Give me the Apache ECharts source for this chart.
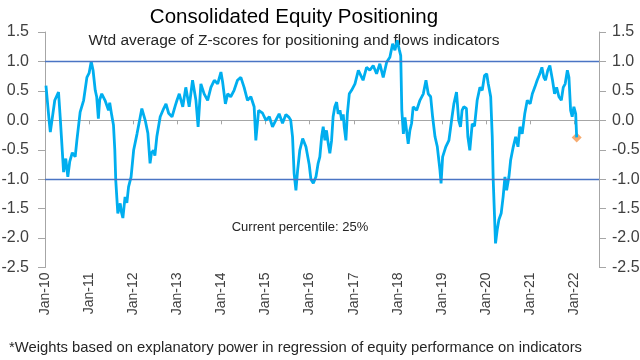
<!DOCTYPE html>
<html><head><meta charset="utf-8">
<script src="https://cdn.jsdelivr.net/npm/echarts@6/dist/echarts.min.js"></script>
<style>html,body{margin:0;padding:0;background:#fff}#c{width:640px;height:360px}</style>
</head><body><div id="c"></div>
<script>
const dates = ['2010-01-09','2010-02-04','2010-02-14','2010-03-23','2010-04-23','2010-05-07','2010-06-04','2010-06-22','2010-07-09','2010-07-25','2010-08-15','2010-09-08','2010-09-22','2010-10-19','2010-11-17','2010-12-14',
'2011-01-01','2011-01-19','2011-02-03','2011-02-21','2011-03-05','2011-03-19','2011-03-30','2011-04-16','2011-05-13','2011-06-11','2011-06-21','2011-07-08','2011-07-22','2011-08-02','2011-08-10','2011-08-27','2011-09-16','2011-09-25','2011-10-08','2011-10-26','2011-11-10','2011-11-24','2011-12-15',
'2012-01-05','2012-02-02','2012-02-29','2012-03-13','2012-04-10','2012-05-02','2012-05-20','2012-06-01','2012-06-18','2012-06-29','2012-07-15','2012-08-12','2012-09-10','2012-09-29','2012-10-21','2012-11-18','2012-12-15','2012-12-29',
'2013-01-17','2013-02-15','2013-03-12','2013-04-09','2013-05-07','2013-06-04','2013-06-22','2013-07-15','2013-08-11','2013-09-09','2013-10-06','2013-11-03','2013-12-01','2013-12-28',
'2014-01-11','2014-02-03','2014-02-22','2014-03-19','2014-04-16','2014-05-14','2014-06-11','2014-07-08','2014-08-05','2014-09-02','2014-09-29','2014-10-13','2014-11-05','2014-12-08',
'2015-01-05','2015-02-02','2015-02-28','2015-03-27','2015-04-24','2015-05-22','2015-06-19','2015-07-15','2015-07-29','2015-08-13','2015-08-26','2015-09-10','2015-09-24','2015-10-12','2015-11-05','2015-12-02','2015-12-29',
'2016-01-12','2016-02-01','2016-02-23','2016-03-12','2016-03-26','2016-04-10','2016-04-23','2016-05-07','2016-05-20','2016-06-04','2016-06-17','2016-07-01','2016-07-14','2016-07-28','2016-08-12','2016-08-25','2016-09-09','2016-09-23','2016-10-06','2016-10-14','2016-10-28','2016-11-09','2016-11-25','2016-12-14',
'2017-01-11','2017-02-08','2017-02-22','2017-03-19','2017-04-17','2017-05-14','2017-06-11','2017-07-09','2017-08-05','2017-09-02','2017-10-01','2017-10-27','2017-11-19','2017-12-08','2017-12-27',
'2018-01-13','2018-01-25','2018-02-03','2018-02-16','2018-03-01','2018-03-14','2018-03-28','2018-04-11','2018-04-25','2018-05-08','2018-06-06','2018-07-03','2018-07-31','2018-08-22','2018-09-10','2018-09-30','2018-10-16','2018-11-05','2018-11-24','2018-12-16','2018-12-25',
'2019-01-07','2019-02-02','2019-02-28','2019-03-26','2019-04-10','2019-05-02','2019-05-20','2019-06-04','2019-06-17','2019-07-01','2019-07-23','2019-08-04','2019-08-20','2019-09-09','2019-09-28','2019-10-20','2019-11-12','2019-12-01','2019-12-20',
'2020-01-07','2020-01-20','2020-02-09','2020-02-22','2020-03-01','2020-03-12','2020-03-20','2020-04-03','2020-04-17','2020-05-06','2020-05-22','2020-06-06','2020-06-20','2020-07-09','2020-07-23','2020-08-14','2020-09-03','2020-09-22','2020-10-08','2020-10-27','2020-11-17','2020-12-08',
'2021-01-01','2021-01-19','2021-02-08','2021-02-28','2021-03-22','2021-04-08','2021-04-24','2021-05-08','2021-05-27','2021-06-13','2021-06-24','2021-07-05','2021-07-22','2021-08-08','2021-08-27','2021-09-16','2021-10-02','2021-10-18','2021-11-05','2021-11-18','2021-12-02','2021-12-15','2021-12-29',
'2022-01-13','2022-01-21'];
const values = [0.59,0.0,-0.2,0.34,0.48,0.05,-0.88,-0.65,-0.96,-0.7,-0.55,-0.62,-0.34,0.14,0.34,0.73,
0.8,1.0,0.85,0.51,0.4,0.03,0.35,0.45,0.34,0.17,0.3,0.08,-0.08,-0.5,-1.02,-1.58,-1.41,-1.55,-1.66,-1.3,-1.4,-1.13,-0.96,
-0.51,-0.23,0.06,0.2,0.0,-0.22,-0.73,-0.55,-0.51,-0.6,-0.28,0.06,0.2,0.28,0.12,0.06,0.25,0.34,
0.45,0.23,0.56,0.23,0.68,0.34,-0.11,0.62,0.45,0.34,0.56,0.68,0.62,0.82,
0.65,0.28,0.45,0.4,0.51,0.68,0.73,0.56,0.34,0.4,0.23,-0.34,0.17,0.12,
0.0,0.06,-0.11,0.0,0.11,-0.05,0.1,0.05,0.0,-0.28,-0.9,-1.19,-0.85,-0.51,-0.31,-0.45,-0.75,
-1.0,-1.07,-0.96,-0.73,-0.62,-0.28,-0.11,-0.34,-0.17,-0.4,-0.56,-0.35,0.06,0.23,0.31,0.11,0.17,0.0,0.1,-0.11,-0.34,0.11,0.45,0.51,
0.62,0.85,0.79,0.68,0.9,0.85,0.93,0.79,0.96,0.73,0.99,1.07,1.3,1.19,1.36,
1.2,1.1,0.17,-0.23,0.05,-0.17,-0.4,-0.17,-0.05,0.23,0.17,0.34,0.45,0.68,0.45,0.4,0.06,-0.28,-0.45,-0.85,-1.07,
-0.62,-0.45,-0.34,0.06,0.28,0.48,0.0,-0.11,0.17,0.23,0.2,-0.28,-0.51,-0.06,-0.1,0.34,0.56,0.51,0.76,
0.79,0.62,0.4,-0.28,-1.02,-1.64,-2.09,-1.86,-1.69,-1.58,-1.3,-0.96,-1.19,-0.96,-0.68,-0.45,-0.28,-0.45,-0.11,-0.23,0.11,0.34,
0.28,0.45,0.56,0.68,0.79,0.9,0.73,0.68,0.85,0.93,0.96,0.68,0.45,0.56,0.4,0.34,0.56,0.62,0.85,0.73,0.17,0.06,0.23,
0.11,-0.29];
const currentDate = ['2022-01-21'];
const currentValue = [-0.29];
const bandLevels = [1.0, -1.0];
const yTicks = {min: -2.5, max: 1.5, step: 0.5};
const xRange = {min: '2010-01-01', max: '2022-07-25'};
const titleText = 'Consolidated Equity Positioning';
const subtitleText = 'Wtd average of Z-scores for positioning and flows indicators';
const noteText = 'Current percentile: 25%';
const footText = '*Weights based on explanatory power in regression of equity performance on indicators';

const FONT = "'Liberation Sans', Arial, sans-serif";
const chart = echarts.init(document.getElementById('c'), null, {renderer: 'canvas'});
const YEAR = 365.25 * 24 * 3600 * 1000;
function yAxisFor(pos) {
  return {
    type: 'value', position: pos, min: yTicks.min, max: yTicks.max, interval: yTicks.step,
    axisLine: {show: true, lineStyle: {color: '#a6a6a6', width: 1}},
    axisTick: {show: true, length: 7, lineStyle: {color: '#a6a6a6'}},
    splitLine: {show: false},
    axisLabel: {color: '#404040', fontSize: 16, fontFamily: FONT, margin: pos === 'left' ? 16 : 13, formatter: v => v.toFixed(1)}
  };
}
chart.setOption({
  animation: false,
  backgroundColor: '#fff',
  grid: {left: 45, right: 41, top: 32, bottom: 92.5, containLabel: false, outerBoundsMode: 'none'},
  xAxis: [
    {type: 'time', min: xRange.min, max: xRange.max, position: 'bottom',
     minInterval: YEAR * 0.99, maxInterval: YEAR * 1.01,
     axisLine: {show: false, onZero: false}, axisTick: {show: false}, splitLine: {show: false},
     axisLabel: {rotate: 90, color: '#404040', fontSize: 14, fontFamily: FONT, margin: 5, showMaxLabel: false,
       formatter: v => { const d = new Date(v); return 'Jan-' + String(d.getFullYear()).slice(2); }}},
    {type: 'time', min: xRange.min, max: xRange.max, position: 'bottom',
     minInterval: YEAR * 0.99, maxInterval: YEAR * 1.01,
     axisLine: {show: true, onZero: true, lineStyle: {color: '#a6a6a6', width: 1}},
     axisTick: {show: true, length: 4, lineStyle: {color: '#a6a6a6'}},
     axisLabel: {show: false}, splitLine: {show: false}}
  ],
  yAxis: [yAxisFor('left'), yAxisFor('right')],
  series: [
    {type: 'line', xAxisIndex: 0, yAxisIndex: 0, showSymbol: false, symbol: 'none',
     data: dates.map((d, i) => [d, values[i]]),
     lineStyle: {color: '#00AEEF', width: 2.8}, itemStyle: {color: '#00AEEF'},
     markLine: {silent: true, symbol: ['none', 'none'], label: {show: false},
       lineStyle: {color: '#4A74C4', width: 1.3, type: 'solid'},
       data: bandLevels.map(v => ({yAxis: v}))}},
    {type: 'scatter', xAxisIndex: 0, yAxisIndex: 0, symbol: 'diamond', symbolSize: 10,
     data: currentDate.map((d, i) => [d, currentValue[i]]),
     itemStyle: {color: '#F4964C'}}
  ],
  graphic: [
    {type: 'text', x: 294, y: 17, style: {text: titleText, fill: '#000', font: "20.5px " + FONT, textAlign: 'center', textVerticalAlign: 'middle'}},
    {type: 'text', x: 294, y: 41, style: {text: subtitleText, fill: '#262626', font: "15.5px " + FONT, textAlign: 'center', textVerticalAlign: 'middle'}},
    {type: 'text', x: 300, y: 227, style: {text: noteText, fill: '#262626', font: "13px " + FONT, textAlign: 'center', textVerticalAlign: 'middle'}},
    {type: 'text', x: 9, y: 348, style: {text: footText, fill: '#262626', font: "14.8px " + FONT, textAlign: 'left', textVerticalAlign: 'middle'}}
  ]
});
</script></body></html>
